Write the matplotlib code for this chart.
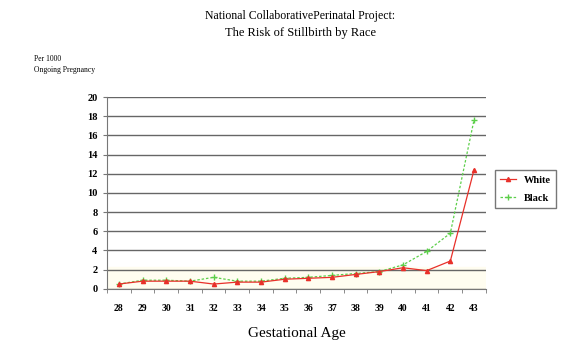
import numpy as np
import matplotlib.pyplot as plt

weeks = ["28", "29", "30", "31", "32", "33", "34", "35", "36", "37", "38", "39", "40", "41", "42", "43"]
white = [0.5, 0.8, 0.8, 0.8, 0.5, 0.7, 0.7, 1.0, 1.1, 1.2, 1.5, 1.8, 2.2, 1.9, 2.9, 12.4]
black = [0.5, 0.9, 0.9, 0.8, 1.2, 0.8, 0.8, 1.1, 1.2, 1.4, 1.6, 1.8, 2.5, 3.9, 5.8, 17.6]
yticks = [0, 2, 4, 6, 8, 10, 12, 14, 16, 18, 20]

plt.rcParams['font.family'] = ['Liberation Serif', 'DejaVu Serif']

fig = plt.figure(figsize=(5.61, 3.48), dpi=100)
ax = fig.add_axes([0.191, 0.170, 0.675, 0.551])

x = np.arange(len(weeks))
ax.axhspan(0, 2.3, color="#fffdf0", zorder=0)
ax.plot(x, white, color="#e8302a", lw=0.9, marker="^", ms=3, label="White", zorder=3)
ax.plot(x, black, color="#5ccf4a", lw=0.9, ls=(0, (2, 1.5)), marker="+", ms=4, label="Black", zorder=2)

ax.set_xlim(-0.5, len(weeks) - 0.5)
ax.set_ylim(0, 20)
ax.set_yticks(yticks)
ax.set_yticklabels([str(v) for v in yticks], fontsize=7.5, fontweight="bold")
ax.set_xticks(x)
ax.set_xticklabels(weeks, fontsize=7, fontweight="bold")
ax.set_xticks(np.arange(-0.5, len(weeks)), minor=True)
ax.tick_params(axis="x", which="major", length=0, pad=11)
ax.tick_params(axis="x", which="minor", length=3, color="#777777")
ax.tick_params(axis="y", length=3, color="#777777", pad=4)
ax.grid(axis="y", color="#666666", lw=1.0)
ax.set_axisbelow(True)
for s in ["top", "right"]:
    ax.spines[s].set_visible(False)
for s in ["left", "bottom"]:
    ax.spines[s].set_color("#777777")

ax.set_xlabel("Gestational Age", fontsize=11, labelpad=10)
fig.text(0.535, 0.955, "National CollaborativePerinatal Project:", ha="center", va="center", fontsize=8.5)
fig.text(0.535, 0.905, "The Risk of Stillbirth by Race", ha="center", va="center", fontsize=9)
fig.text(0.06, 0.815, "Per 1000\nOngoing Pregnancy", ha="left", va="center", fontsize=5.5, linespacing=1.6)

leg = ax.legend(loc="center left", bbox_to_anchor=(1.01, 0.52), frameon=True, fancybox=False,
                edgecolor="#555555", prop={"weight": "bold", "size": 7.5}, handlelength=1.5,
                borderpad=0.5, labelspacing=0.8)

fig.savefig("out.png", dpi=100)
